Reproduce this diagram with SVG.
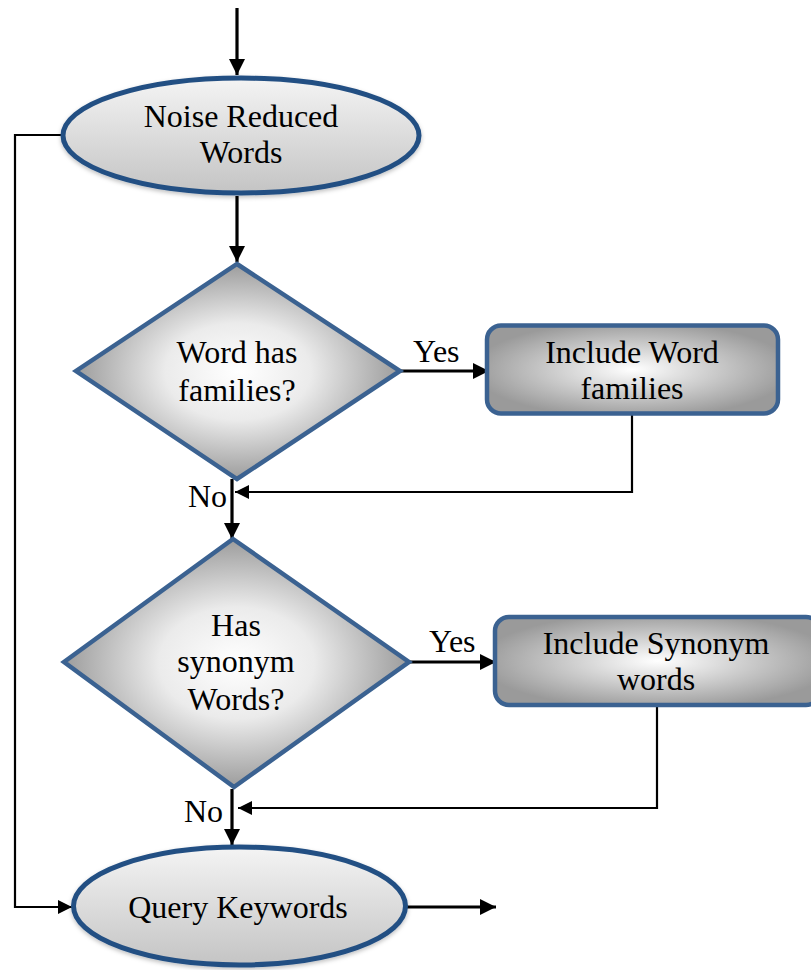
<svg xmlns="http://www.w3.org/2000/svg" width="811" height="970" viewBox="0 0 811 970">
<style>
  text { font-family: "Liberation Serif", "Times New Roman", "DejaVu Serif", serif; font-size: 32px; fill: #000; text-anchor: middle; }
  .lbl { text-anchor: start; }
  .ell { fill: url(#gEll); stroke: #234f83; stroke-width: 5; filter: url(#sh); }
  .dia { fill: url(#gDia); stroke: #3b6291; stroke-width: 4.5; stroke-linejoin: miter; }
  .box { fill: url(#gBox); stroke: #3b6291; stroke-width: 4.5; }
  .flow { stroke: #000; stroke-width: 3.2; fill: none; }
  .ret { stroke: #000; stroke-width: 2.2; fill: none; }
</style>
<defs>
  <linearGradient id="gEll" x1="0" y1="0" x2="0" y2="1">
    <stop offset="0" stop-color="#f4f4f4"/>
    <stop offset="1" stop-color="#c4c4c4"/>
  </linearGradient>
  <radialGradient id="gDia" cx="0.5" cy="0.5" r="0.5">
    <stop offset="0" stop-color="#ffffff"/>
    <stop offset="0.45" stop-color="#ebebeb"/>
    <stop offset="1" stop-color="#9c9c9c"/>
  </radialGradient>
  <radialGradient id="gBox" cx="0.5" cy="0.5" r="0.55">
    <stop offset="0" stop-color="#ffffff"/>
    <stop offset="1" stop-color="#9a9a9a"/>
  </radialGradient>
  <filter id="sh" x="-10%" y="-10%" width="120%" height="130%">
    <feDropShadow dx="0" dy="2" stdDeviation="2" flood-color="#000" flood-opacity="0.25"/>
  </filter>
  <marker id="aT" viewBox="0 0 10 10" refX="10" refY="5" markerWidth="5" markerHeight="5" markerUnits="strokeWidth" orient="auto">
    <path d="M0,0 L10,5 L0,10 z" fill="#000"/>
  </marker>
  <marker id="aR" viewBox="0 0 10 10" refX="10" refY="5" markerWidth="6.5" markerHeight="6.5" markerUnits="strokeWidth" orient="auto">
    <path d="M0,0 L10,5 L0,10 z" fill="#000"/>
  </marker>
</defs>

<g id="connectors">
  <line class="flow" x1="237" y1="8" x2="237" y2="75" marker-end="url(#aT)"/>
  <line class="flow" x1="237" y1="196" x2="237" y2="262" marker-end="url(#aT)"/>
  <line class="flow" x1="400" y1="371" x2="489" y2="371" marker-end="url(#aT)"/>
  <polyline class="ret" points="632,415 632,492 235,492" marker-end="url(#aR)"/>
  <line class="flow" x1="232" y1="479" x2="232" y2="539" marker-end="url(#aT)"/>
  <line class="flow" x1="410" y1="662" x2="496" y2="662" marker-end="url(#aT)"/>
  <polyline class="ret" points="657,706 657,808 238,808" marker-end="url(#aR)"/>
  <line class="flow" x1="232" y1="789" x2="232" y2="845" marker-end="url(#aT)"/>
  <polyline class="ret" points="62,135 15,135 15,907 72,907" marker-end="url(#aR)"/>
  <line class="flow" x1="407" y1="907" x2="496" y2="907" marker-end="url(#aT)"/>
  <text class="lbl" x="413" y="362">Yes</text>
  <text class="lbl" x="188" y="507">No</text>
  <text class="lbl" x="429" y="652">Yes</text>
  <text class="lbl" x="184" y="822">No</text>
</g>

<g id="noise-reduced-words">
  <ellipse class="ell" cx="241" cy="135.5" rx="178" ry="57.5"/>
  <text x="241" y="127">Noise Reduced</text>
  <text x="241" y="163">Words</text>
</g>

<g id="word-has-families">
  <polygon class="dia" points="237,264 400,371 237,479 76,371" />
  <text x="237" y="363">Word has</text>
  <text x="237" y="401">families?</text>
</g>

<g id="include-word-families">
  <rect class="box" x="487" y="325.5" width="291" height="88" rx="14"/>
  <text x="632" y="363">Include Word</text>
  <text x="632" y="399">families</text>
</g>

<g id="has-synonym-words">
  <polygon class="dia" points="233,539 409,662 234,787 64,662" />
  <text x="236" y="636">Has</text>
  <text x="236" y="672">synonym</text>
  <text x="236" y="710">Words?</text>
</g>

<g id="include-synonym-words">
  <rect class="box" x="495" y="617" width="325" height="88" rx="14"/>
  <text x="656" y="654">Include Synonym</text>
  <text x="656" y="690">words</text>
</g>

<g id="query-keywords">
  <ellipse class="ell" cx="239.5" cy="906" rx="166" ry="59"/>
  <text x="238" y="918">Query Keywords</text>
</g>
</svg>
